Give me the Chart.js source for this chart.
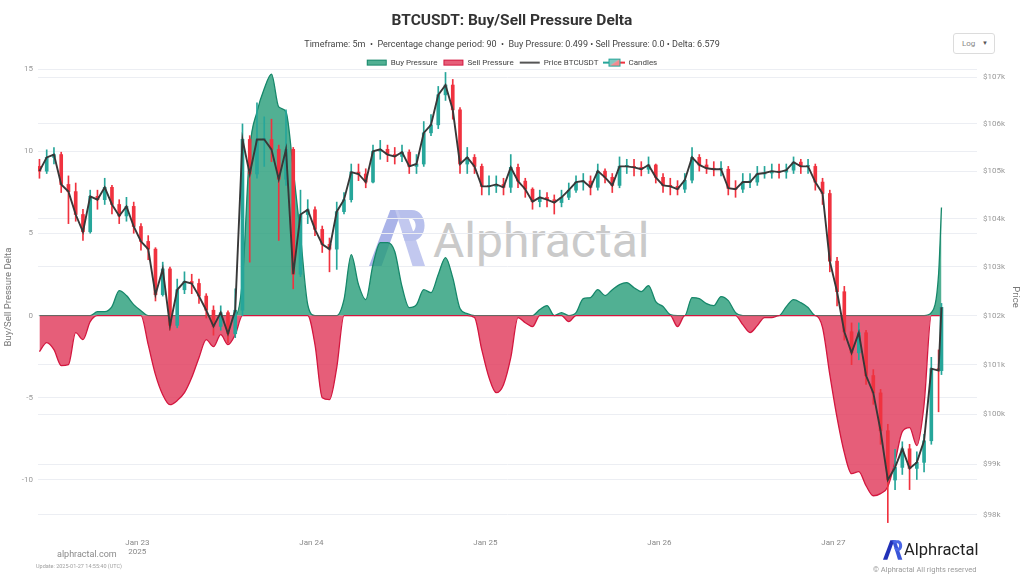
<!DOCTYPE html>
<html>
<head>
<meta charset="utf-8">
<script src="https://cdn.jsdelivr.net/npm/chart.js@4.4.1/dist/chart.umd.min.js"></script>
<style>
html,body{margin:0;padding:0;background:#fff;width:1024px;height:576px;overflow:hidden;font-family:Roboto,'Open Sans',sans-serif;}
#wrap{position:relative;width:1024px;height:576px;}
#chart{position:absolute;left:0;top:0;z-index:1;}
.abs{position:absolute;white-space:nowrap;}
#wmIcon{left:369px;top:210px;z-index:0;}
#wmText{left:433px;top:217px;font-size:48px;line-height:48px;color:#cacaca;font-weight:400;z-index:0;}
#sel{left:953px;top:33px;width:42px;height:21px;border:1px solid #dcdcdc;border-radius:3px;box-sizing:border-box;z-index:2;background:#fff;}
#sel .t{position:absolute;left:8px;top:5px;font-size:8px;color:#888;}
#sel .a{position:absolute;right:6px;top:5px;font-size:6px;color:#555;}
#site{left:57px;top:549px;font-size:9px;color:#8a8a8a;z-index:2;}
#upd{left:36px;top:563px;font-size:5.5px;color:#a0a0a0;z-index:2;}
#logoIcon{left:883px;top:540px;z-index:2;}
#logoText{left:904px;top:540px;font-size:16.5px;line-height:20px;color:#222;z-index:2;}
#copy{left:873px;top:565px;font-size:7.5px;color:#9a9a9a;z-index:2;}
</style>
</head>
<body>
<div id="wrap">
  <svg id="wmIcon" class="abs" width="58" height="56" viewBox="0 0 60 58">
    <polygon points="0,58 22,0 34,0 13,58" fill="#aab3e8"/>
    <polygon points="27,0 38,0 58,58 45,58" fill="#c2c8ef"/>
    <path d="M30,0 H44 C62,0 62,32 44,32 H37 L34,23 H43 C50,23 50,9 43,9 H33 Z" fill="#b8c0ec"/>
  </svg>
  <div id="wmText" class="abs">Alphractal</div>
  <canvas id="chart" width="1024" height="576"></canvas>
  <div id="sel" class="abs"><span class="t">Log</span><span class="a">&#9660;</span></div>
  <div id="site" class="abs">alphractal.com</div>
  <div id="upd" class="abs">Update: 2025-01-27 14:55:40 (UTC)</div>
  <svg id="logoIcon" class="abs" width="20" height="20" viewBox="0 0 60 58">
    <polygon points="0,58 22,0 34,0 13,58" fill="#2232b8"/>
    <polygon points="27,0 38,0 58,58 45,58" fill="#3a55d8"/>
    <path d="M30,0 H44 C62,0 62,32 44,32 H37 L34,23 H43 C50,23 50,9 43,9 H33 Z" fill="#4a66e6"/>
  </svg>
  <div id="logoText" class="abs">Alphractal</div>
  <div id="copy" class="abs">© Alphractal All rights reserved</div>
</div>
<script>
// ---------- DATA ----------
// time in hours since 2025-01-22 00:00 UTC
const times = [10.5,11.5,12.5,13.5,14.5,15.5,16.5,17.5,18.5,19.5,
  20.5,21.5,22.5,23.5,24.5,25.5,26.5,27.5,28.5,29.5,
  30.5,31.5,32.5,33.5,34.5,35.5,36.5,37.5,38.5,39.5,
  40.5,41.5,42.5,43.5,44.5,45.5,46.5,47.5,48.5,49.5,
  50.5,51.5,52.5,53.5,54.5,55.5,56.5,57.5,58.5,59.5,
  60.5,61.5,62.5,63.5,64.5,65.5,66.5,67.5,68.5,69.5,
  70.5,71.5,72.5,73.5,74.5,75.5,76.5,77.5,78.5,79.5,
  80.5,81.5,82.5,83.5,84.5,85.5,86.5,87.5,88.5,89.5,
  90.5,91.5,92.5,93.5,94.5,95.5,96.5,97.5,98.5,99.5,
  100.5,101.5,102.5,103.5,104.5,105.5,106.5,107.5,108.5,109.5,
  110.5,111.5,112.5,113.5,114.5,115.5,116.5,117.5,118.5,119.5,
  120.5,121.5,122.5,123.5,124.5,125.5,126.5,127.5,128.5,129.5,
  130.5,131.5,132.5,133.5,134.5,134.9];

// BTCUSDT price, thousands of USD
const firstOpen = 105.10;
const closePrice = [105.00,105.29,105.35,104.72,104.57,104.09,103.73,104.47,104.40,104.66,
  104.30,104.06,104.26,103.84,103.53,103.37,102.43,102.96,101.80,102.53,
  102.70,102.66,102.40,102.11,101.78,102.06,101.63,102.11,105.67,104.94,
  105.67,105.67,105.46,104.83,105.46,102.85,104.09,104.19,103.78,103.47,
  103.37,104.15,104.40,104.98,104.94,104.77,105.42,105.46,105.35,105.31,
  105.40,105.10,105.15,105.81,105.98,106.62,106.83,106.30,105.15,105.29,
  105.10,104.68,104.68,104.72,104.66,105.08,104.79,104.62,104.36,104.45,
  104.40,104.34,104.45,104.60,104.77,104.79,104.66,105.00,104.87,104.70,
  105.10,105.10,105.08,105.04,105.13,104.87,104.70,104.68,104.62,104.81,
  105.29,105.13,105.06,105.04,105.04,104.64,104.62,104.77,104.77,104.94,
  104.96,105.00,104.98,105.02,105.19,105.10,105.10,104.77,104.53,103.12,
  102.49,101.67,101.24,101.65,100.78,100.43,99.67,98.69,98.94,99.31,
  98.92,99.04,99.47,100.92,100.88,102.17];
const highPrice = [105.25,105.45,105.50,105.40,104.90,104.75,104.20,104.60,104.60,104.85,
  104.70,104.40,104.45,104.35,103.90,103.65,103.40,103.10,103.00,102.75,
  102.90,102.85,102.75,102.45,102.20,102.20,102.10,102.55,106.00,105.75,
  106.45,106.15,106.10,105.55,106.30,105.50,104.60,104.40,104.25,103.85,
  103.60,104.35,104.55,105.15,105.15,105.05,105.55,105.65,105.55,105.50,
  105.55,105.45,105.35,106.05,106.20,106.80,107.10,106.95,106.35,105.50,
  105.35,105.15,104.90,104.90,104.85,105.35,105.15,104.85,104.65,104.60,
  104.55,104.50,104.60,104.75,104.90,104.95,104.90,105.15,105.05,104.95,
  105.30,105.25,105.25,105.20,105.30,105.15,104.95,104.85,104.80,104.95,
  105.50,105.35,105.25,105.20,105.20,105.10,104.80,104.95,104.95,105.10,
  105.10,105.15,105.15,105.15,105.30,105.25,105.25,105.15,104.85,104.60,
  103.20,102.60,101.85,101.85,101.70,100.90,100.50,99.80,99.30,99.45,
  99.40,99.25,99.60,101.15,101.30,102.25];
const lowPrice = [104.85,104.95,105.15,104.55,103.90,103.95,103.55,103.70,104.20,104.30,
  104.10,103.90,103.95,103.70,103.35,103.15,102.30,102.40,101.70,101.75,
  102.45,102.45,102.25,101.95,101.60,101.70,101.45,101.55,102.00,103.10,
  104.85,105.10,105.20,103.55,104.70,102.55,102.80,103.90,103.65,103.30,
  102.90,102.95,104.10,104.35,104.80,104.65,104.75,105.25,105.20,105.15,
  105.20,104.95,104.95,105.10,105.75,105.90,106.50,106.10,104.95,104.95,
  104.95,104.50,104.50,104.55,104.50,104.55,104.65,104.45,104.20,104.25,
  104.25,104.10,104.25,104.40,104.55,104.60,104.50,104.60,104.75,104.55,
  104.65,104.95,104.90,104.90,104.95,104.75,104.55,104.50,104.50,104.55,
  104.75,105.00,104.95,104.90,104.90,104.50,104.45,104.55,104.65,104.70,
  104.85,104.85,104.85,104.85,104.95,104.95,104.95,104.60,104.30,102.90,
  102.20,101.50,101.00,101.10,100.60,100.20,99.40,97.85,98.50,98.80,
  98.50,98.70,98.85,99.40,100.05,100.80];

// Buy/Sell pressure delta
const delta = [-2.19,-1.64,-2.07,-3.04,-2.98,-1.03,-1.46,-0.37,0.24,0.24,
  0.55,1.52,1.22,0.67,0.30,-1.77,-3.59,-4.81,-5.42,-5.17,
  -4.69,-3.77,-2.56,-1.46,-1.89,-1.16,-1.77,-1.16,2.2,10.1,
  12.4,13.8,14.7,12.7,12.4,8.9,4.87,0.67,-1.77,-4.99,
  -5.11,-3.16,0.97,3.71,1.89,0.97,3.10,4.44,4.44,3.90,
  1.77,0.49,0.67,1.58,1.40,2.50,3.53,2.31,0.43,0.12,
  -0.12,-2.07,-3.77,-4.69,-4.20,-2.56,-0.12,-0.43,-0.67,0.37,
  0.61,0,0.18,-0.37,0.18,1.03,1.10,1.58,1.22,1.58,
  1.89,2.01,1.70,1.46,1.83,0.85,0.55,0.06,-0.67,0,
  1.10,1.03,0.73,0.61,1.16,0.91,0.18,-0.55,-1.03,-0.61,
  -0.12,-0.12,0,0.55,0.97,0.79,0.49,0,-0.73,-3.59,
  -6.21,-8.34,-9.62,-9.49,-10.35,-10.96,-10.83,-10.41,-8.89,-7.06,
  -6.82,-7.91,-5.42,0.18,2.50,6.579];

const deltaTicks = [-10,-5,0,5,10,15];
const priceTicks = [98,99,100,101,102,103,104,105,106,107];
const dayTicks = [24,48,72,96,120];
const dayLabels = [['Jan 23','2025'],'Jan 24','Jan 25','Jan 26','Jan 27'];

// ---------- STYLE ----------
const GREEN = '#26a69a', RED = '#f0323f';
const BUY_FILL = 'rgba(38,156,120,0.80)', BUY_LINE = '#16876a';
const SELL_FILL = 'rgba(224,58,92,0.82)', SELL_LINE = '#d3173f';
const GRID = '#eceef3';
const FONT = 'Roboto';

const openPrice = closePrice.map((c,i)=> i===0 ? firstOpen : closePrice[i-1]);
const candleColor = closePrice.map((c,i)=> c >= openPrice[i] ? GREEN : RED);

function icon(draw){
  const c = document.createElement('canvas'); c.width = 22; c.height = 10;
  const g = c.getContext('2d'); draw(g); return c;
}
const icBuy = icon(g=>{g.fillStyle=BUY_FILL;g.fillRect(1,2,20,6);g.strokeStyle=BUY_LINE;g.lineWidth=1;g.strokeRect(1.5,2.5,19,5);});
const icSell = icon(g=>{g.fillStyle=SELL_FILL;g.fillRect(1,2,20,6);g.strokeStyle=SELL_LINE;g.lineWidth=1;g.strokeRect(1.5,2.5,19,5);});
const icPrice = icon(g=>{g.fillStyle='#555';g.fillRect(1,4,20,2);});
const icCandle = icon(g=>{
  g.fillStyle=GREEN;g.fillRect(0,4,5,2);
  g.fillStyle=RED;g.fillRect(17,4,5,2);
  g.beginPath();g.moveTo(5,1);g.lineTo(17,1);g.lineTo(5,9);g.closePath();g.fillStyle='rgba(38,166,154,0.6)';g.fill();
  g.beginPath();g.moveTo(17,1);g.lineTo(17,9);g.lineTo(5,9);g.closePath();g.fillStyle='rgba(239,59,69,0.6)';g.fill();
  g.strokeStyle=GREEN;g.lineWidth=1;g.strokeRect(5.5,1.5,11,7);
});

const legendPatch = {
  id:'legendPatch',
  beforeUpdate(chart){
    const lg = chart.legend;
    if (lg && !lg._patched){
      const f = lg.fit;
      lg.fit = function(){ f.call(this); this.height = 16.5; };
      lg._patched = true;
    }
  }
};

new Chart(document.getElementById('chart'), {
  type:'bar',
  data:{
    datasets:[
      {type:'line', label:'Price BTCUSDT', data: times.map((t,i)=>({x:t,y:closePrice[i]})), yAxisID:'yP',
        borderColor:'#383838', borderWidth:1.9, pointRadius:0, tension:0, fill:false, order:1},
      {type:'bar', label:'Candle bodies', data: times.map((t,i)=>({x:t,y:[openPrice[i],closePrice[i]]})), yAxisID:'yP',
        backgroundColor:candleColor, borderWidth:0, barThickness:3, minBarLength:1, grouped:false, order:2},
      {type:'bar', label:'Candle wicks', data: times.map((t,i)=>({x:t,y:[lowPrice[i],highPrice[i]]})), yAxisID:'yP',
        backgroundColor:candleColor, borderWidth:0, barThickness:1, grouped:false, order:3},
      {type:'line', label:'Buy Pressure', data: times.map((t,i)=>({x:t,y:Math.max(delta[i],0)})), yAxisID:'y',
        borderColor:BUY_LINE, backgroundColor:BUY_FILL, borderWidth:1.3, pointRadius:0, fill:'origin',
        cubicInterpolationMode:'monotone', order:5},
      {type:'line', label:'Sell Pressure', data: times.map((t,i)=>({x:t,y:Math.min(delta[i],0)})), yAxisID:'y',
        borderColor:SELL_LINE, backgroundColor:SELL_FILL, borderWidth:1.3, pointRadius:0, fill:'origin',
        cubicInterpolationMode:'monotone', order:4}
    ]
  },
  options:{
    responsive:false, animation:false, devicePixelRatio:1,
    layout:{padding:0},
    scales:{
      x:{type:'linear', min:10.3, max:139.8, offset:false,
        grid:{display:false, offset:false}, border:{display:false},
        afterBuildTicks:s=>{ s.ticks = dayTicks.map(v=>({value:v})); },
        afterFit:s=>{ s.height = 51; },
        ticks:{autoSkip:false, maxRotation:0, padding:5, color:'#888', font:{family:FONT,size:8},
          callback:(v)=>{ const i = dayTicks.indexOf(v); return i>=0 ? dayLabels[i] : ''; }}
      },
      y:{type:'linear', position:'left', min:-12.74, max:15,
        grid:{color:GRID, drawTicks:false}, border:{display:false},
        afterBuildTicks:s=>{ s.ticks = deltaTicks.map(v=>({value:v})); },
        afterFit:s=>{ s.width = 38; },
        ticks:{padding:5, color:'#999', font:{family:FONT,size:8}},
        title:{display:true, text:'Buy/Sell Pressure Delta', color:'#777', font:{family:FONT,size:9.5}, padding:{top:3,bottom:0}}
      },
      yP:{type:'logarithmic', position:'right', min:97.803, max:107.172,
        grid:{color:GRID, drawTicks:false}, border:{display:false},
        afterBuildTicks:s=>{ s.ticks = priceTicks.map(v=>({value:v})); },
        afterFit:s=>{ s.width = 47; },
        ticks:{padding:6, color:'#999', font:{family:FONT,size:8}, callback:v=>'$'+v+'k'},
        title:{display:true, text:'Price', color:'#777', font:{family:FONT,size:9.5}, padding:{top:3,bottom:0}}
      }
    },
    plugins:{
      tooltip:{enabled:false},
      title:{display:true, text:'BTCUSDT: Buy/Sell Pressure Delta', color:'#333',
        font:{family:FONT,size:15.5,weight:'bold'}, padding:{top:12.3,bottom:8}},
      subtitle:{display:true,
        text:'Timeframe: 5m  •  Percentage change period: 90  •  Buy Pressure: 0.499 • Sell Pressure: 0.0 • Delta: 6.579',
        color:'#444', font:{family:FONT,size:9}, padding:{top:0.5,bottom:2.4}},
      legend:{display:true, position:'top',
        labels:{usePointStyle:true, pointStyleWidth:20, boxHeight:8, padding:6, color:'#444',
          font:{family:FONT,size:8},
          generateLabels:()=>[
            {text:'Buy Pressure', pointStyle:icBuy, fillStyle:BUY_FILL, strokeStyle:BUY_LINE, lineWidth:0, hidden:false, datasetIndex:3, fontColor:'#444'},
            {text:'Sell Pressure', pointStyle:icSell, fillStyle:SELL_FILL, strokeStyle:SELL_LINE, lineWidth:0, hidden:false, datasetIndex:4, fontColor:'#444'},
            {text:'Price BTCUSDT', pointStyle:icPrice, fillStyle:'#555', strokeStyle:'#555', lineWidth:0, hidden:false, datasetIndex:0, fontColor:'#444'},
            {text:'Candles', pointStyle:icCandle, fillStyle:GREEN, strokeStyle:RED, lineWidth:0, hidden:false, datasetIndex:1, fontColor:'#444'}
          ]
        }
      }
    }
  },
  plugins:[legendPatch]
});
</script>
</body>
</html>
